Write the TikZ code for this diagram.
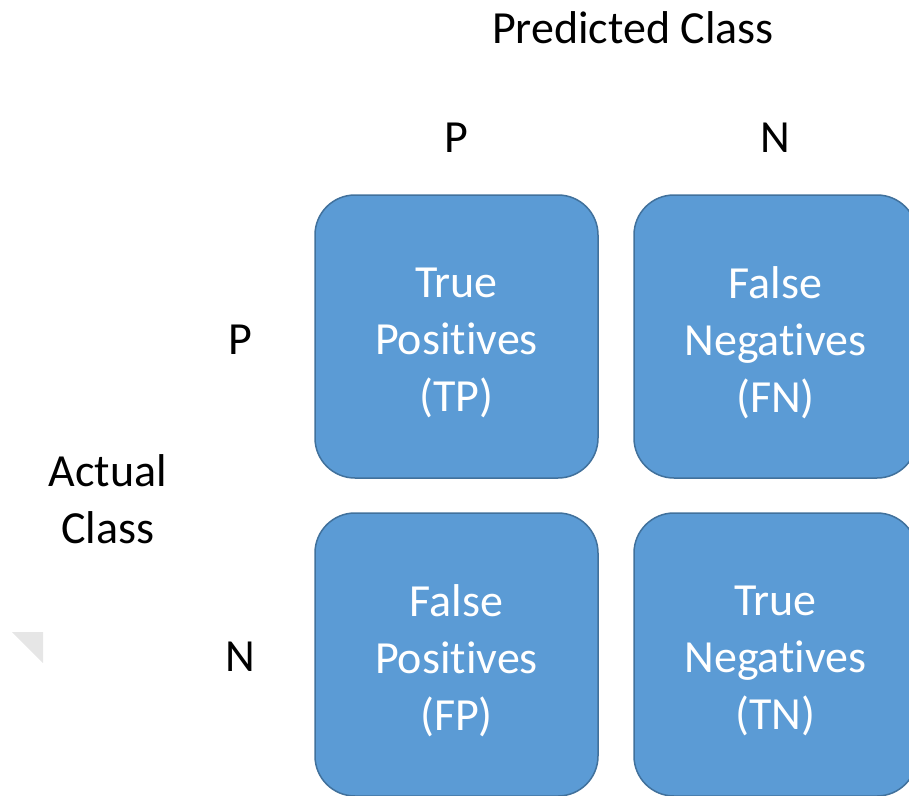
\documentclass[tikz,border=0pt]{standalone}
\usepackage{fontspec}
\setmainfont[Ligatures={NoCommon}]{Carlito}
\definecolor{cellfill}{HTML}{5B9BD5}
\definecolor{celldraw}{HTML}{41719C}
\definecolor{trigray}{HTML}{E6E6E6}
\begin{document}
\begin{tikzpicture}[x=1pt,y=-1pt,
  cell/.style={draw=celldraw,line width=1.5pt,fill=cellfill,rounded corners=40pt,
    minimum width=283pt,minimum height=283pt,inner sep=0pt},
  celltext/.style={text=white,align=center,inner sep=0pt,
    font=\fontsize{46}{57}\selectfont},
  lbl/.style={text=black,align=center,font=\fontsize{46}{57}\selectfont,inner sep=0pt}]
\useasboundingbox (0,0) rectangle (909,795);
\clip (0,0) rectangle (909,795);
\fill[trigray] (12,632) -- (43,632) -- (43,663) -- cycle;
\node[cell] (tp) at (456.5,336.5) {};
\node[cell] (fn) at (775.5,336.5) {};
\node[cell] (fp) at (456.5,654.5) {};
\node[cell] (tn) at (775.5,654.5) {};
\node[celltext] (tpt) at ([yshift=-6pt]tp.center) {True\\Positives\\(TP)};
\node[celltext] (fnt) at ([yshift=-6pt]fn.center) {False\\Negatives\\(FN)};
\node[celltext] (fpt) at ([yshift=-6pt]fp.center) {False\\Positives\\(FP)};
\node[celltext] (tnt) at ([yshift=-6pt]tn.center) {True\\Negatives\\(TN)};
\node[lbl] (pred) at (633,28) {Predicted Class};
\node[lbl] (pp) at (456,138) {P};
\node[lbl] (pn) at (775,138) {N};
\node[lbl] (ap) at (240,340) {P};
\node[lbl] (an) at (240,657) {N};
\node[lbl] (act) at (108,499) {Actual\\Class};
\end{tikzpicture}
\end{document}
